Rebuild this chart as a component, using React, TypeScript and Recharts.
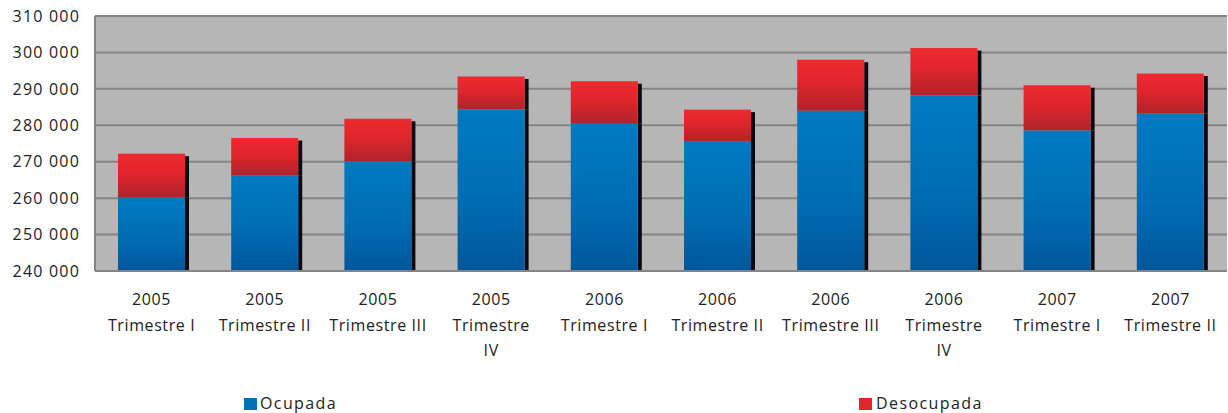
import { BarChart, Bar, XAxis, YAxis, CartesianGrid } from "recharts";

const years = ["2005", "2005", "2005", "2005", "2006", "2006", "2006", "2006", "2007", "2007"];
const quarters = [
  ["Trimestre I"],
  ["Trimestre II"],
  ["Trimestre III"],
  ["Trimestre", "IV"],
  ["Trimestre I"],
  ["Trimestre II"],
  ["Trimestre III"],
  ["Trimestre", "IV"],
  ["Trimestre I"],
  ["Trimestre II"],
];
const ocupada = [260200, 266300, 270100, 284400, 280400, 275700, 284000, 288200, 278600, 283200];
const desocupada = [12000, 10200, 11700, 9000, 11700, 8600, 14000, 13000, 12400, 11000];
const yTicks = [240000, 250000, 260000, 270000, 280000, 290000, 300000, 310000];

const data = years.map((year, i) => ({
  name: `${year} ${quarters[i].join(" ")}`,
  ocupada: ocupada[i],
  desocupada: desocupada[i],
}));

const FONT = "'Open Sans', 'Noto Sans', sans-serif";
const TEXT = "#222";

const fmt = (v: number) => {
  const s = String(Math.round(v));
  return s.replace(/\B(?=(\d{3})+(?!\d))/g, " ");
};

// bar with the thin black shadow strip on its right side
const makeShape = (fillId: string, topInset: number) => (props: any) => {
  const { x, y, width, height, background } = props;
  if (height == null || height <= 0) return <g />;
  let bottom = y + height;
  if (background) bottom = Math.min(bottom, background.y + background.height);
  const h = bottom - y;
  return (
    <g>
      <rect x={x + width} y={y + topInset} width={4} height={Math.max(0, h - topInset)} fill="#0c0812" />
      <rect x={x} y={y} width={width} height={h} fill={`url(#${fillId})`} />
    </g>
  );
};

const XTick = (props: any) => {
  const { x, y, payload } = props;
  const i = payload.index;
  const lines = [years[i], ...quarters[i]];
  return (
    <g>
      {lines.map((l, k) => (
        <text
          key={k}
          x={x}
          y={y + 26 + k * 25.5}
          textAnchor="middle"
          fill={TEXT}
          fontSize={16}
          fontFamily={FONT}
          letterSpacing={0.6}
        >
          {l}
        </text>
      ))}
    </g>
  );
};

const legendStyle = {
  position: "absolute" as const,
  top: 394,
  height: 19,
  lineHeight: "19px",
  display: "flex",
  alignItems: "center",
  fontFamily: FONT,
  fontSize: 16,
  color: TEXT,
  letterSpacing: 1.4,
};

export default function App() {
  return (
    <div style={{ position: "absolute", left: 0, top: 0, width: 1228, height: 413, background: "#fff", overflow: "hidden" }}>
      <BarChart
        width={1228}
        height={413}
        data={data}
        margin={{ top: 16, right: 1, left: 0, bottom: 0 }}
      >
        <defs>
          <linearGradient id="gBlue" x1="0" y1="0" x2="0" y2="1">
            <stop offset="0%" stopColor="#007AC2" />
            <stop offset="55%" stopColor="#006DB5" />
            <stop offset="100%" stopColor="#00579A" />
          </linearGradient>
          <linearGradient id="gRed" x1="0" y1="0" x2="0" y2="1">
            <stop offset="0%" stopColor="#EE2A30" />
            <stop offset="45%" stopColor="#E0252B" />
            <stop offset="100%" stopColor="#B0232C" />
          </linearGradient>
        </defs>
        <CartesianGrid vertical={false} fill="#B5B6B5" stroke="#848484" strokeWidth={2} />
        <XAxis
          dataKey="name"
          height={142}
          tick={<XTick />}
          tickLine={false}
          axisLine={{ stroke: "#848484", strokeWidth: 2 }}
          interval={0}
        />
        <YAxis
          width={95}
          domain={[240000, 310000]}
          ticks={yTicks}
          allowDataOverflow
          tickFormatter={fmt}
          tickLine={false}
          tickMargin={9}
          axisLine={{ stroke: "#848484", strokeWidth: 2 }}
          tick={{ fill: TEXT, fontSize: 16, fontFamily: FONT, letterSpacing: 1.2 }}
        />
        <Bar
          dataKey="ocupada"
          stackId="a"
          barSize={67}
          shape={makeShape("gBlue", 0)}
          isAnimationActive={false}
        />
        <Bar
          dataKey="desocupada"
          stackId="a"
          barSize={67}
          shape={makeShape("gRed", 2.5)}
          isAnimationActive={false}
        />
      </BarChart>
      <div style={{ ...legendStyle, left: 244 }}>
        <span style={{ width: 13, height: 12, background: "#0070B8", marginRight: 3, display: "inline-block" }} />
        Ocupada
      </div>
      <div style={{ ...legendStyle, left: 859 }}>
        <span style={{ width: 13, height: 12, background: "#E0252B", marginRight: 4, display: "inline-block" }} />
        Desocupada
      </div>
    </div>
  );
}
